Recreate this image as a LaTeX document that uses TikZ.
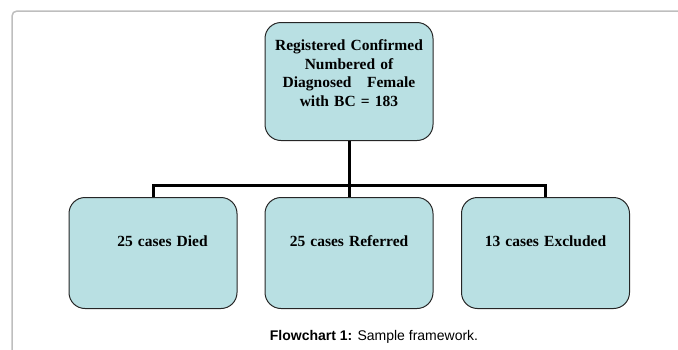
\documentclass[tikz,border=0pt]{standalone}
\usepackage{fontspec}
\setmainfont{Liberation Serif}
\newfontfamily\capfont{Liberation Sans}
\definecolor{boxblue}{RGB}{185,224,227}
\definecolor{framegray}{RGB}{190,190,190}

\begin{document}
\begin{tikzpicture}[x=1pt,y=-1pt,thick,
  case node/.style={draw=black!85,line width=1pt,fill=boxblue,rounded corners=16pt,anchor=north,inner sep=0pt,text width=168pt,align=center,font=\fontsize{15.5}{18.7}\selectfont\bfseries},
  link/.style={draw,line width=3pt,black}]
\useasboundingbox (0,0) rectangle (678,349);

% page frame
\draw[framegray,line width=1.5pt,rounded corners=5pt] (12,355) -- (12,11) -- (685,11);

\node[case node,text height=28pt,text depth=90pt] (total) at (349,22) {Registered Confirmed\\ Numbered of\\ Diagnosed\quad Female\\ with BC = 183};

\node[case node,text height=49pt,text depth=62pt] (died) at (153,197) {\hspace*{19pt}25 cases Died};
\node[case node,text height=49pt,text depth=62pt] (referred) at (349,197) {25 cases Referred};
\node[case node,text height=49pt,text depth=62pt] (excluded) at (545.5,197) {13 cases Excluded};

\coordinate (split) at (349,185);
\draw[link] (total.south) -- (split);
\draw[link] (split) -| (died.north);
\draw[link] (split) -- (referred.north);
\draw[link] (split) -| (excluded.north);

% caption
\node[font=\capfont\fontsize{14}{16}\selectfont] (caption) at (374,337) {\textbf{Flowchart 1:} Sample framework.};

\end{tikzpicture}
\end{document}
